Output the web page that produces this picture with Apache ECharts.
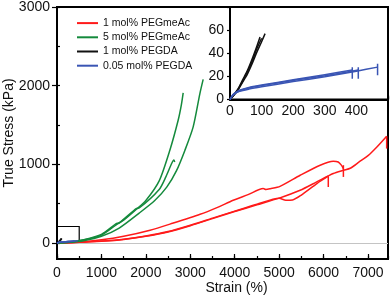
<!DOCTYPE html>
<html><head><meta charset="utf-8">
<script src="https://cdn.jsdelivr.net/npm/echarts@6/dist/echarts.min.js"></script>
<style>html,body{margin:0;padding:0;background:#fff}#c{width:392px;height:299px}</style>
</head><body><div id="c"></div>
<script>
// ---- labels / ticks ----
const seriesNames = ['1 mol% PEGmeAc', '5 mol% PEGmeAc', '1 mol% PEGDA', '0.05 mol% PEGDA'];
const mainXRange = [0, 7450];
const mainYRange = [0, 3000];
const insetXRange = [0, 500];
const insetYRange = [0, 80];
const mainXLabelStep = 1000, mainXMinorStep = 500;
const mainYLabelStep = 1000, mainYMinorStep = 500;
const insetXLabelStep = 100, insetXMinorStep = 50;
const insetYLabelStep = 20, insetYMinorStep = 10;

// ---- data: [strain %, true stress kPa] ----
// 1 mol% PEGmeAc (red)
const red1 = [[0,0],[500,8],[1000,22],[1500,45],[2000,85],[2500,140],[3000,220],[3500,310],[4000,400],[4500,485],[5000,570],[5473,670],[5845,776],[6218,883],[6450,925],[6600,950],[6800,1030],[7000,1110],[7200,1220],[7420,1357]];
const red1End = [[7420,1357],[7420,1200]];
const red2 = [[0,0],[500,13],[1000,40],[1500,85],[2095,162],[2600,250],[3221,365],[3600,450],[3966,543],[4300,615],[4642,692],[4700,680],[4800,690],[5018,720],[5473,861],[5923,989],[6218,1039],[6330,1030],[6400,990],[6446,946]];
const red2End = [[6446,989],[6446,840]];
const red3 = [[0,0],[500,9],[1000,24],[1500,48],[2000,88],[2500,145],[3000,226],[3500,316],[4000,405],[4500,492],[5000,568],[5150,545],[5300,548],[5500,610],[5850,756],[6106,849]];
const red3End = [[6106,849],[6106,712]];
// 5 mol% PEGmeAc (green)
const green1 = [[0,0],[300,12],[600,38],[1000,100],[1340,235],[1500,290],[1790,430],[2000,540],[2300,790],[2540,1180],[2727,1561],[2800,1760],[2840,1908]];
const green2 = [[0,0],[300,10],[600,30],[1000,85],[1400,190],[1850,380],[2200,540],[2470,710],[2690,920],[2880,1180],[3065,1476],[3216,1900],[3290,2080]];
const green3 = [[0,0],[300,14],[600,42],[1000,110],[1340,250],[1400,255],[1790,440],[1850,445],[2300,680],[2450,840],[2580,1010],[2630,1055],[2650,1030]];
// 1 mol% PEGDA (black)
const black1 = [[0,0],[10,3],[25,8],[40,15],[55,22],[70,31],[85,41],[100,50],[111,57]];
const black2 = [[0,0],[10,3.5],[25,9],[40,17],[55,25],[70,35],[85,46],[95,54]];
const black3 = [[0,0],[10,3],[25,8.5],[40,16],[55,24],[70,33],[85,44],[100,53]];
// 0.05 mol% PEGDA (blue)
const blue1 = [[0,0],[10,4],[30,7],[60,9],[100,11],[200,15.5],[300,19.7],[400,24.5],[467,28]];
const blue1End = [[467,31],[467,21]];
const blue2 = [[0,0],[10,4.5],[30,8],[60,10.5],[100,12.5],[200,17],[300,21.5],[387,25.5]];
const blue2End = [[387,28],[387,18]];
const blue3 = [[0,0],[10,4],[30,7.5],[60,10],[100,12],[200,16.5],[300,20.5],[406,25.5]];
const blue3End = [[406,28],[406,18]];

const zoomBox = [[0,0],[500,210]];

const colors = {red:'#ff1a1a', green:'#148a3c', black:'#111111', blue:'#3a55b4'};
const FONT = 'Liberation Sans, Arial, Helvetica, sans-serif';

// axis index map: x: 0 frame-major, 1 frame-minor, 2 main data, 3 inset major, 4 inset minor
//                 y: 0 frame, 1 main major, 2 main minor, 3 inset major, 4 inset minor
const MX = 2, MY = 1, IX = 3, IY = 3;

function mk(name, data, color, xi, yi, smooth, w) {
  return {type:'line', name:name, data:data, xAxisIndex:xi, yAxisIndex:yi,
    showSymbol:false, symbol:'none', smooth:smooth, color:color, clip:false,
    lineStyle:{color:color, width:w||1.5}, animation:false, silent:true};
}
const series = [];
const s0 = mk(seriesNames[0], red1, colors.red, MX, MY, 0.25);
s0.markLine = {silent:true, symbol:'none', label:{show:false},
  lineStyle:{color:'#c4c4c4', width:1, type:'solid'}, data:[{yAxis:0}], z:1};
series.push(s0);
series.push(mk(seriesNames[0], red2, colors.red, MX, MY, 0.25));
series.push(mk(seriesNames[0], red3, colors.red, MX, MY, 0.25));
[red1End, red2End, red3End].forEach(d => series.push(mk(seriesNames[0], d, colors.red, MX, MY, false)));
[green1, green2, green3].forEach(d => series.push(mk(seriesNames[1], d, colors.green, MX, MY, 0.25)));
const bk = mk(seriesNames[2], black1, colors.black, MX, MY, 0.25);
bk.markArea = {silent:true, itemStyle:{color:'rgba(0,0,0,0)', borderColor:'#000', borderWidth:1.2},
  data:[[{coord:zoomBox[0]},{coord:zoomBox[1]}]]};
series.push(bk);
[black2, black3].forEach(d => series.push(mk(seriesNames[2], d, colors.black, MX, MY, 0.25)));
[blue1, blue2, blue3].forEach(d => series.push(mk(seriesNames[3], d, colors.blue, MX, MY, 0.25)));
// inset
[black1, black2, black3].forEach(d => series.push(mk(seriesNames[2], d, colors.black, IX, IY, 0.25)));
[blue1, blue2, blue3].forEach(d => series.push(mk(seriesNames[3], d, colors.blue, IX, IY, 0.25)));
[blue1End, blue2End, blue3End].forEach(d => series.push(mk(seriesNames[3], d, colors.blue, IX, IY, false)));

function stepFmt(step, maxShown) {
  return v => (Math.abs(v / step - Math.round(v / step)) < 1e-6 && v <= maxShown) ? String(v) : '';
}
const lblBase = {color:'#111', fontSize:14, fontFamily:FONT};
const line2 = {show:true, lineStyle:{color:'#000', width:2}};
const noLine = {show:false};
const tick = (inside, len) => ({show:true, inside:inside, length:len, lineStyle:{color:'#000', width:1.2}});

const option = {
  animation:false,
  backgroundColor:'#fff',
  textStyle:{fontFamily:FONT},
  legend:{
    data:seriesNames, orient:'vertical', left:72, top:12,
    icon:'rect', itemWidth:21, itemHeight:2, itemGap:2,
    textStyle:{fontSize:10.5, lineHeight:12.2, color:'#111', fontFamily:FONT},
    selectedMode:false
  },
  grid:[
    {left:57, top:7, width:331, height:252, show:true, borderColor:'#000', borderWidth:2, backgroundColor:'rgba(0,0,0,0)', containLabel:false, outerBoundsMode:'none'},
    {left:57, top:7, width:331, height:236, show:false, containLabel:false, outerBoundsMode:'none'},
    {left:230, top:7, width:158, height:92.5, show:true, borderColor:'#000', borderWidth:2, backgroundColor:'#fff', z:3, containLabel:false, outerBoundsMode:'none'}
  ],
  xAxis:[
    {type:'value', gridIndex:0, min:mainXRange[0], max:mainXRange[1], interval:mainXLabelStep, position:'bottom',
      axisLine:line2, splitLine:{show:false}, axisTick:tick(true,5),
      axisLabel:Object.assign({margin:7, showMaxLabel:false, formatter:stepFmt(mainXLabelStep, 7000)}, lblBase),
      name:'Strain (%)', nameLocation:'middle', nameGap:22, nameMoveOverlap:false,
      nameTextStyle:{fontSize:14, color:'#111', fontFamily:FONT, padding:[0,0,0,28]}},
    {type:'value', gridIndex:0, min:mainXRange[0], max:mainXRange[1], interval:mainXMinorStep, position:'bottom', offset:0,
      axisLine:noLine, splitLine:{show:false}, axisLabel:{show:false}, axisTick:tick(true,3)},
    {type:'value', gridIndex:1, min:mainXRange[0], max:mainXRange[1], show:false},
    {type:'value', gridIndex:2, min:insetXRange[0], max:insetXRange[1], interval:insetXLabelStep, position:'bottom',
      axisLine:line2, splitLine:{show:false}, axisTick:tick(true,4),
      axisLabel:Object.assign({margin:5, formatter:stepFmt(insetXLabelStep, 400)}, lblBase)},
    {type:'value', gridIndex:2, min:insetXRange[0], max:insetXRange[1], interval:insetXMinorStep, position:'bottom', offset:0,
      axisLine:noLine, splitLine:{show:false}, axisLabel:{show:false}, axisTick:tick(true,3)}
  ],
  yAxis:[
    {type:'value', gridIndex:0, min:0, max:1, position:'left',
      axisLine:line2, splitLine:{show:false}, axisTick:{show:false}, axisLabel:{show:false},
      name:'True Stress (kPa)', nameLocation:'middle', nameGap:41, nameMoveOverlap:false,
      nameTextStyle:{fontSize:14, color:'#111', fontFamily:FONT}},
    {type:'value', gridIndex:1, min:mainYRange[0], max:mainYRange[1], interval:mainYLabelStep, position:'left',
      axisLine:noLine, splitLine:{show:false}, axisTick:tick(false,5),
      axisLabel:Object.assign({margin:7, formatter:stepFmt(mainYLabelStep, 3000)}, lblBase)},
    {type:'value', gridIndex:1, min:mainYRange[0], max:mainYRange[1], interval:mainYMinorStep, position:'left', offset:0,
      axisLine:noLine, splitLine:{show:false}, axisLabel:{show:false}, axisTick:tick(true,3)},
    {type:'value', gridIndex:2, min:insetYRange[0], max:insetYRange[1], interval:insetYLabelStep, position:'left',
      axisLine:line2, splitLine:{show:false}, axisTick:tick(false,3),
      axisLabel:Object.assign({margin:6, formatter:stepFmt(insetYLabelStep, 60)}, lblBase)},
    {type:'value', gridIndex:2, min:insetYRange[0], max:insetYRange[1], interval:insetYMinorStep, position:'left', offset:0,
      axisLine:noLine, splitLine:{show:false}, axisLabel:{show:false}, axisTick:tick(true,3)}
  ],
  series:series
};
const chart = echarts.init(document.getElementById('c'), null, {renderer:'canvas'});
chart.setOption(option);
</script></body></html>
